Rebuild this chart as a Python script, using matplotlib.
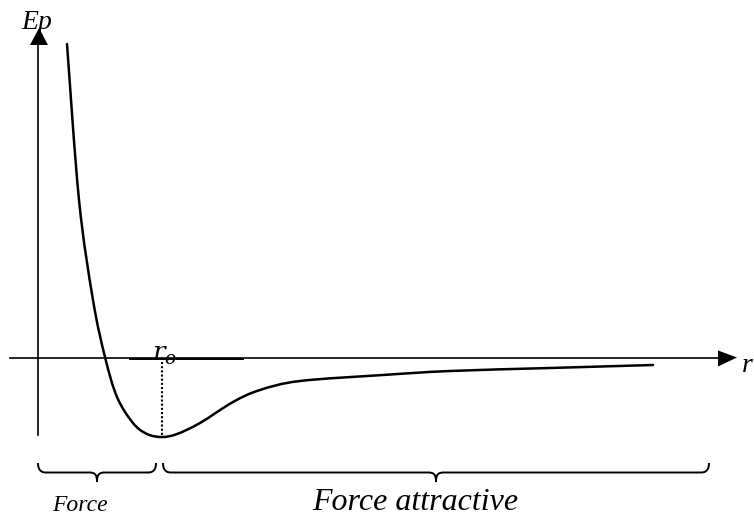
import matplotlib.pyplot as plt
from matplotlib.path import Path
from matplotlib.patches import PathPatch

# Ep(r) curve (x to the right, y downward, in px)
curve_x = [67, 79, 93, 105, 117, 133, 147, 162, 177, 200, 233, 260, 300,
           383, 450, 550, 653]
curve_y = [44, 200, 300, 357, 397, 423, 434, 437, 434, 423, 402, 390, 381,
           375, 371, 368, 365]

# axes
axis_y = 357.5
axis_x = 38
h_axis = (10, 720)
v_axis = (435, 44)

# r_o marker
r0_x = 162
r0_y = (362, 437)

# braces: (left, right, tip)
braces = [(38, 156, 97), (163, 709, 436)]
brace_top, brace_mid, brace_tip = 463, 472.5, 482

labels = [
    ("Ep", 21, 29, 20),
    ("r", 742, 372, 20),
    ("Force", 52, 511, 17),
    ("Force attractive", 312, 510, 23),
]


def smooth_path(xs, ys):
    # catmull-rom through the points, turned into bezier segments
    pts = list(zip(xs, ys))
    v = [pts[0]]
    c = [Path.MOVETO]
    for i in range(len(pts) - 1):
        p0 = pts[i - 1] if i > 0 else pts[i]
        p1, p2 = pts[i], pts[i + 1]
        p3 = pts[i + 2] if i + 2 < len(pts) else p2
        b1 = (p1[0] + (p2[0] - p0[0]) / 6, p1[1] + (p2[1] - p0[1]) / 6)
        b2 = (p2[0] - (p3[0] - p1[0]) / 6, p2[1] - (p3[1] - p1[1]) / 6)
        v += [b1, b2, p2]
        c += [Path.CURVE4] * 3
    return Path(v, c)


def brace_path(x0, x1, xm):
    v = [(x0, brace_top), (x0, brace_mid), (x0 + 6, brace_mid), (x0 + 8, brace_mid),
         (xm - 8, brace_mid), (xm - 2, brace_mid), (xm, brace_mid + 2), (xm, brace_tip),
         (xm, brace_mid + 2), (xm + 2, brace_mid), (xm + 8, brace_mid),
         (x1 - 8, brace_mid), (x1 - 6, brace_mid), (x1, brace_mid), (x1, brace_top)]
    c = [Path.MOVETO, Path.CURVE4, Path.CURVE4, Path.CURVE4,
         Path.LINETO, Path.CURVE4, Path.CURVE4, Path.CURVE4,
         Path.CURVE4, Path.CURVE4, Path.CURVE4,
         Path.LINETO, Path.CURVE4, Path.CURVE4, Path.CURVE4]
    return Path(v, c)


fig = plt.figure(figsize=(7.54, 5.18), dpi=100)
ax = fig.add_axes([0, 0, 1, 1])
ax.set_xlim(0, 754)
ax.set_ylim(518, 0)
ax.axis("off")

# axes lines + arrowheads
ax.plot(h_axis, [axis_y, axis_y], color="black", lw=1.2)
ax.plot([130, 243], [axis_y + 1, axis_y + 1], color="black", lw=1.4)
ax.fill([718, 737, 718], [350.5, axis_y, 366.5], color="black", lw=0)
ax.plot([axis_x, axis_x], v_axis, color="black", lw=1.2)
ax.fill([30, 39, 48], [45, 28, 45], color="black", lw=0)

# potential curve
ax.add_patch(PathPatch(smooth_path(curve_x, curve_y), fill=False, lw=1.8,
                       edgecolor="black", capstyle="round", joinstyle="round"))

# r_o dotted line and label
ax.plot([r0_x, r0_x], r0_y, color="black", lw=1.5, linestyle=(0, (1, 1)))
ax.text(152, 361, r"$r_o$", fontsize=19, ha="left", va="baseline",
        math_fontfamily="dejavuserif")

for x0, x1, xm in braces:
    ax.add_patch(PathPatch(brace_path(x0, x1, xm), fill=False, lw=1.4,
                           edgecolor="black"))

for txt, x, y, size in labels:
    ax.text(x, y, txt, fontsize=size, ha="left", va="baseline",
            family="Liberation Serif", style="italic")

fig.savefig("out.png", dpi=100, facecolor="white")
